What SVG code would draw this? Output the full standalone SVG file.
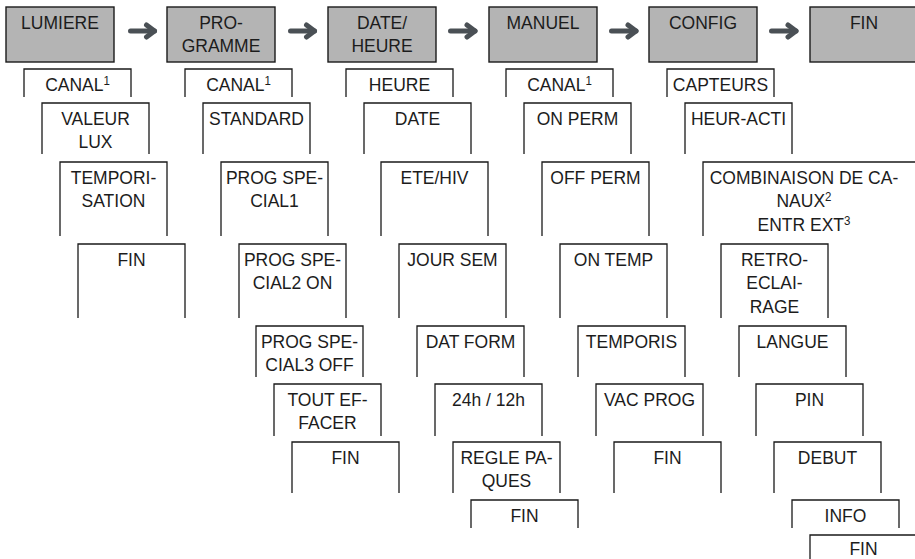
<svg xmlns="http://www.w3.org/2000/svg" width="915" height="559" viewBox="0 0 915 559">
<style>
  .top rect { fill: #b4b4b4; stroke: #1a1a1a; stroke-width: 1.4; }
  .card path { fill: none; stroke: #1a1a1a; stroke-width: 1.3; }
  text { font-family: "Liberation Sans", Arial, Helvetica, sans-serif; font-size: 17.5px; fill: #1c1c1c; text-anchor: middle; }
  .sup { font-size: 11.5px; }
  .conn line { stroke: #4a5055; stroke-width: 5; stroke-linecap: round; }
</style>
<defs>
  <marker id="head" markerUnits="userSpaceOnUse" refX="0" refY="0" markerWidth="20" markerHeight="20" orient="auto" overflow="visible">
    <path d="M-8 -6 L0 0 L-8 6" fill="none" stroke="#4a5055" stroke-width="5" stroke-linecap="round" stroke-linejoin="round"/>
  </marker>
</defs>
<rect width="915" height="559" fill="#ffffff"/>

<!-- main menu -->
<g id="n-lumiere" class="top" transform="translate(6,7)"><rect width="108" height="55"/><g transform="scale(1 1.07)"><text x="54" y="20.3">LUMIERE</text></g></g>
<g id="n-programme" class="top" transform="translate(167,7)"><rect width="108" height="55"/><g transform="scale(1 1.07)"><text x="54" y="20.3">PRO-</text><text x="54" y="42.4">GRAMME</text></g></g>
<g id="n-dateheure" class="top" transform="translate(328,7)"><rect width="108" height="55"/><g transform="scale(1 1.07)"><text x="54" y="20.3">DATE/</text><text x="54" y="42.4">HEURE</text></g></g>
<g id="n-manuel" class="top" transform="translate(489,7)"><rect width="108" height="55"/><g transform="scale(1 1.07)"><text x="54" y="20.3">MANUEL</text></g></g>
<g id="n-config" class="top" transform="translate(649,7)"><rect width="108" height="55"/><g transform="scale(1 1.07)"><text x="54" y="20.3">CONFIG</text></g></g>
<g id="n-fin" class="top" transform="translate(810,7)"><rect width="108" height="55"/><g transform="scale(1 1.07)"><text x="54" y="20.3">FIN</text></g></g>

<!-- connectors -->
<g id="connectors" class="conn">
  <line x1="130.5" y1="31" x2="154.5" y2="31" marker-end="url(#head)"/>
  <line x1="290.5" y1="31" x2="314.5" y2="31" marker-end="url(#head)"/>
  <line x1="450.5" y1="31" x2="475" y2="31" marker-end="url(#head)"/>
  <line x1="611.5" y1="31" x2="636" y2="31" marker-end="url(#head)"/>
  <line x1="771.5" y1="31" x2="796" y2="31" marker-end="url(#head)"/>
</g>

<!-- LUMIERE column -->
<g id="l-canal" class="card" transform="translate(24,69)"><path d="M0 28V0H107V28"/><g transform="scale(1 1.07)"><text x="53.5" y="20.3">CANAL<tspan class="sup" dy="-5.6">1</tspan></text></g></g>
<g id="l-valeur" class="card" transform="translate(42,103)"><path d="M0 51V0H107V51"/><g transform="scale(1 1.07)"><text x="53.5" y="20.3">VALEUR</text><text x="53.5" y="42.4">LUX</text></g></g>
<g id="l-tempo" class="card" transform="translate(60,162)"><path d="M0 74V0H107V74"/><g transform="scale(1 1.07)"><text x="53.5" y="20.3">TEMPORI-</text><text x="53.5" y="42.4">SATION</text></g></g>
<g id="l-fin" class="card" transform="translate(78,244)"><path d="M0 74V0H107V74"/><g transform="scale(1 1.07)"><text x="53.5" y="20.3">FIN</text></g></g>

<!-- PROGRAMME column -->
<g id="p-canal" class="card" transform="translate(185,69)"><path d="M0 28V0H107V28"/><g transform="scale(1 1.07)"><text x="53.5" y="20.3">CANAL<tspan class="sup" dy="-5.6">1</tspan></text></g></g>
<g id="p-standard" class="card" transform="translate(203,103)"><path d="M0 51V0H107V51"/><g transform="scale(1 1.07)"><text x="53.5" y="20.3">STANDARD</text></g></g>
<g id="p-spec1" class="card" transform="translate(221,162)"><path d="M0 74V0H107V74"/><g transform="scale(1 1.07)"><text x="53.5" y="20.3">PROG SPE-</text><text x="53.5" y="42.4">CIAL1</text></g></g>
<g id="p-spec2" class="card" transform="translate(239,244)"><path d="M0 74V0H107V74"/><g transform="scale(1 1.07)"><text x="53.5" y="20.3">PROG SPE-</text><text x="53.5" y="42.4">CIAL2 ON</text></g></g>
<g id="p-spec3" class="card" transform="translate(256,326)"><path d="M0 51V0H107V51"/><g transform="scale(1 1.07)"><text x="53.5" y="20.3">PROG SPE-</text><text x="53.5" y="42.4">CIAL3 OFF</text></g></g>
<g id="p-effacer" class="card" transform="translate(274,384)"><path d="M0 52V0H107V52"/><g transform="scale(1 1.07)"><text x="53.5" y="20.3">TOUT EF-</text><text x="53.5" y="42.4">FACER</text></g></g>
<g id="p-fin" class="card" transform="translate(292,442)"><path d="M0 51V0H107V51"/><g transform="scale(1 1.07)"><text x="53.5" y="20.3">FIN</text></g></g>

<!-- DATE/HEURE column -->
<g id="d-heure" class="card" transform="translate(346,69)"><path d="M0 28V0H107V28"/><g transform="scale(1 1.07)"><text x="53.5" y="20.3">HEURE</text></g></g>
<g id="d-date" class="card" transform="translate(364,103)"><path d="M0 51V0H107V51"/><g transform="scale(1 1.07)"><text x="53.5" y="20.3">DATE</text></g></g>
<g id="d-etehiv" class="card" transform="translate(381,162)"><path d="M0 74V0H107V74"/><g transform="scale(1 1.07)"><text x="53.5" y="20.3">ETE/HIV</text></g></g>
<g id="d-joursem" class="card" transform="translate(399,244)"><path d="M0 74V0H107V74"/><g transform="scale(1 1.07)"><text x="53.5" y="20.3">JOUR SEM</text></g></g>
<g id="d-datform" class="card" transform="translate(417,326)"><path d="M0 51V0H107V51"/><g transform="scale(1 1.07)"><text x="53.5" y="20.3">DAT FORM</text></g></g>
<g id="d-2412" class="card" transform="translate(435,384)"><path d="M0 52V0H107V52"/><g transform="scale(1 1.07)"><text x="53.5" y="20.3">24h / 12h</text></g></g>
<g id="d-paques" class="card" transform="translate(453,442)"><path d="M0 51V0H107V51"/><g transform="scale(1 1.07)"><text x="53.5" y="20.3">REGLE PA-</text><text x="53.5" y="42.4">QUES</text></g></g>
<g id="d-fin" class="card" transform="translate(471,500)"><path d="M0 28V0H107V28"/><g transform="scale(1 1.07)"><text x="53.5" y="20.3">FIN</text></g></g>

<!-- MANUEL column -->
<g id="m-canal" class="card" transform="translate(506,69)"><path d="M0 28V0H107V28"/><g transform="scale(1 1.07)"><text x="53.5" y="20.3">CANAL<tspan class="sup" dy="-5.6">1</tspan></text></g></g>
<g id="m-onperm" class="card" transform="translate(524,103)"><path d="M0 51V0H107V51"/><g transform="scale(1 1.07)"><text x="53.5" y="20.3">ON PERM</text></g></g>
<g id="m-offperm" class="card" transform="translate(542,162)"><path d="M0 74V0H107V74"/><g transform="scale(1 1.07)"><text x="53.5" y="20.3">OFF PERM</text></g></g>
<g id="m-ontemp" class="card" transform="translate(560,244)"><path d="M0 74V0H107V74"/><g transform="scale(1 1.07)"><text x="53.5" y="20.3">ON TEMP</text></g></g>
<g id="m-temporis" class="card" transform="translate(578,326)"><path d="M0 51V0H107V51"/><g transform="scale(1 1.07)"><text x="53.5" y="20.3">TEMPORIS</text></g></g>
<g id="m-vacprog" class="card" transform="translate(596,384)"><path d="M0 52V0H107V52"/><g transform="scale(1 1.07)"><text x="53.5" y="20.3">VAC PROG</text></g></g>
<g id="m-fin" class="card" transform="translate(614,442)"><path d="M0 51V0H107V51"/><g transform="scale(1 1.07)"><text x="53.5" y="20.3">FIN</text></g></g>

<!-- CONFIG column -->
<g id="c-capteurs" class="card" transform="translate(667,69)"><path d="M0 28V0H107V28"/><g transform="scale(1 1.07)"><text x="53.5" y="20.3">CAPTEURS</text></g></g>
<g id="c-heuracti" class="card" transform="translate(685,103)"><path d="M0 51V0H107V51"/><g transform="scale(1 1.07)"><text x="53.5" y="20.3">HEUR-ACTI</text></g></g>
<g id="c-combi" class="card" transform="translate(703,162)"><path d="M0 74V0H215"/><g transform="scale(1 1.07)"><text x="101" y="20.3">COMBINAISON DE CA-</text><text x="101" y="42.4">NAUX<tspan class="sup" dy="-5.6">2</tspan></text><text x="101" y="64.5">ENTR EXT<tspan class="sup" dy="-5.6">3</tspan></text></g></g>
<g id="c-retro" class="card" transform="translate(721,244)"><path d="M0 74V0H107V74"/><g transform="scale(1 1.07)"><text x="53.5" y="20.3">RETRO-</text><text x="53.5" y="42.4">ECLAI-</text><text x="53.5" y="64.5">RAGE</text></g></g>
<g id="c-langue" class="card" transform="translate(739,326)"><path d="M0 51V0H107V51"/><g transform="scale(1 1.07)"><text x="53.5" y="20.3">LANGUE</text></g></g>
<g id="c-pin" class="card" transform="translate(756,384)"><path d="M0 52V0H107V52"/><g transform="scale(1 1.07)"><text x="53.5" y="20.3">PIN</text></g></g>
<g id="c-debut" class="card" transform="translate(774,442)"><path d="M0 51V0H107V51"/><g transform="scale(1 1.07)"><text x="53.5" y="20.3">DEBUT</text></g></g>
<g id="c-info" class="card" transform="translate(792,500)"><path d="M0 28V0H107V28"/><g transform="scale(1 1.07)"><text x="53.5" y="20.3">INFO</text></g></g>
<g id="c-fin" class="card" transform="translate(810,535)"><path d="M0 30V0H107V30"/><g transform="scale(1 1.07)"><text x="53.5" y="18.6">FIN</text></g></g>
</svg>
